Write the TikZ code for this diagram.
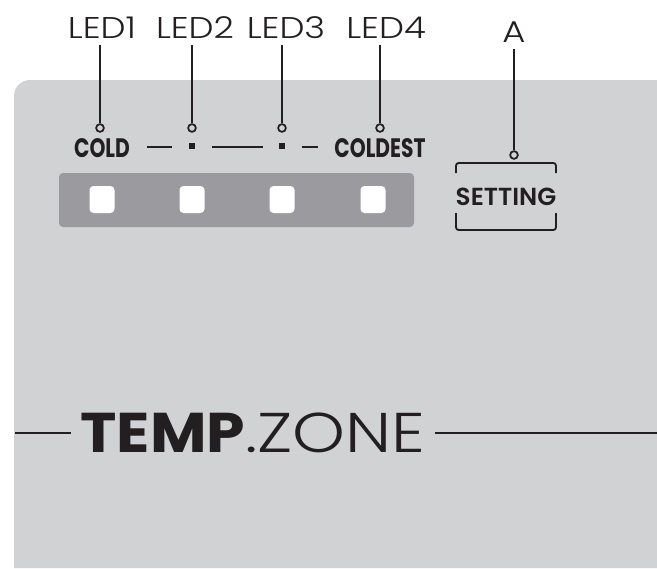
\documentclass[tikz,border=0pt]{standalone}
\usepackage{fontspec}
\setmainfont{Poppins}
\newfontfamily\thinfont{Poppins Light}[FakeStretch=1.18]
\newfontfamily\zonethin{Poppins Light}[FakeStretch=1.2]
\newfontfamily\capsfont{Poppins Bold}[FakeStretch=0.76]
\newfontfamily\btnfont{Poppins SemiBold}
\newfontfamily\zonebold{Poppins Bold}[FakeStretch=1.1]
\usetikzlibrary{positioning}
\definecolor{panelgray}{HTML}{D1D2D4}
\definecolor{stripgray}{HTML}{9B9A9F}
\definecolor{ink}{HTML}{231F20}

\begin{document}
\begin{tikzpicture}[x=0.75pt, y=-0.75pt,
    ledlabel/.style={inner sep=0pt, anchor=base, text=ink,
      font=\thinfont\fontsize{22.5}{22.5}\selectfont},
    pin/.style={circle, draw=ink, line width=1.3pt, fill=panelgray,
      minimum size=5.8pt, inner sep=0pt},
    leader/.style={draw=ink, line width=1.7pt, shorten >=5pt},
    scalelabel/.style={inner sep=0pt, anchor=base, text=ink,
      font=\capsfont\fontsize{20}{20}\selectfont},
    scaledash/.style={draw=ink, line width=0.8pt},
    scalemark/.style={rectangle, fill=ink, minimum size=5pt, inner sep=0pt},
    keybox/.style={rectangle, rounded corners=3pt, fill=white,
      minimum width=18.75pt, minimum height=20.25pt, inner sep=0pt},
    bracket/.style={draw=ink, line width=1.4pt, rounded corners=2pt},
    zoneline/.style={draw=ink, line width=1.5pt}
  ]
    \useasboundingbox (0,0) rectangle (657,568);
    % panel and key strip
    \fill[panelgray] (14,568) [rounded corners=12pt] -- (14,80)
      [sharp corners] -- (657,80) -- (657,568) -- cycle;
    \fill[stripgray, rounded corners=3pt] (59,173) rectangle (414,227);

    \node[keybox] (key1) at (102,199.5) {};
    \node[keybox] (key2) at (192,199.5) {};
    \node[keybox] (key3) at (282,199.5) {};
    \node[keybox] (key4) at (373,199.5) {};

    % scale row
    \node[scalelabel] (cold) at (102,157) {COLD};
    \node[scalelabel] (coldest) at (380,157) {COLDEST};
    \node[scalemark] (mark2) at (192,146) {};
    \node[scalemark] (mark3) at (282,146) {};
    \draw[scaledash] (147,147) -- (172,147);
    \draw[scaledash] (212,147) -- (263,147);
    \draw[scaledash] (302,147) -- (318,147);

    % LED callouts
    \node[ledlabel] (led1) at (102,38) {LED1};
    \node[ledlabel] (led2) at (195,38) {LED2};
    \node[ledlabel] (led3) at (286,38) {LED3};
    \node[ledlabel] (led4) at (386,38) {LED4};
    \node[pin] (pin1) at (100,128) {};
    \node[pin] (pin2) at (192,128) {};
    \node[pin] (pin3) at (282,128) {};
    \node[pin] (pin4) at (380,128) {};
    \draw[leader] (pin1.north) -- (pin1 |- led1.south);
    \draw[leader] (pin2.north) -- (pin2 |- led2.south);
    \draw[leader] (pin3.north) -- (pin3 |- led3.south);
    \draw[leader] (pin4.north) -- (pin4 |- led4.south);

    % setting button
    \node[inner sep=0pt, anchor=base, text=ink,
      font=\btnfont\fontsize{18.5}{18.5}\selectfont] (setting) at (506,205) {SETTING};
    \draw[bracket] (456,173) -- (456,163) -- (556,163) -- (556,173);
    \draw[bracket] (456,213) -- (456,230) -- (556,230) -- (556,213);
    \node[ledlabel] (labA) at (514,42) {A};
    \node[pin] (pinA) at (514,155) {};
    \draw[leader] (pinA.north) -- (pinA |- labA.south);

    % zone title
    \node[anchor=base, inner xsep=7pt, inner ysep=0pt, text=ink,
      font=\fontsize{42}{42}\selectfont] (tz) at (253,452)
      {\zonebold TEMP\zonethin .ZONE};
    \coordinate (zl) at (15,433);
    \coordinate (zr) at (657,433);
    \draw[zoneline] (zl) -- (zl -| tz.west);
    \draw[zoneline] (zr -| tz.east) -- (zr);
\end{tikzpicture}
\end{document}
